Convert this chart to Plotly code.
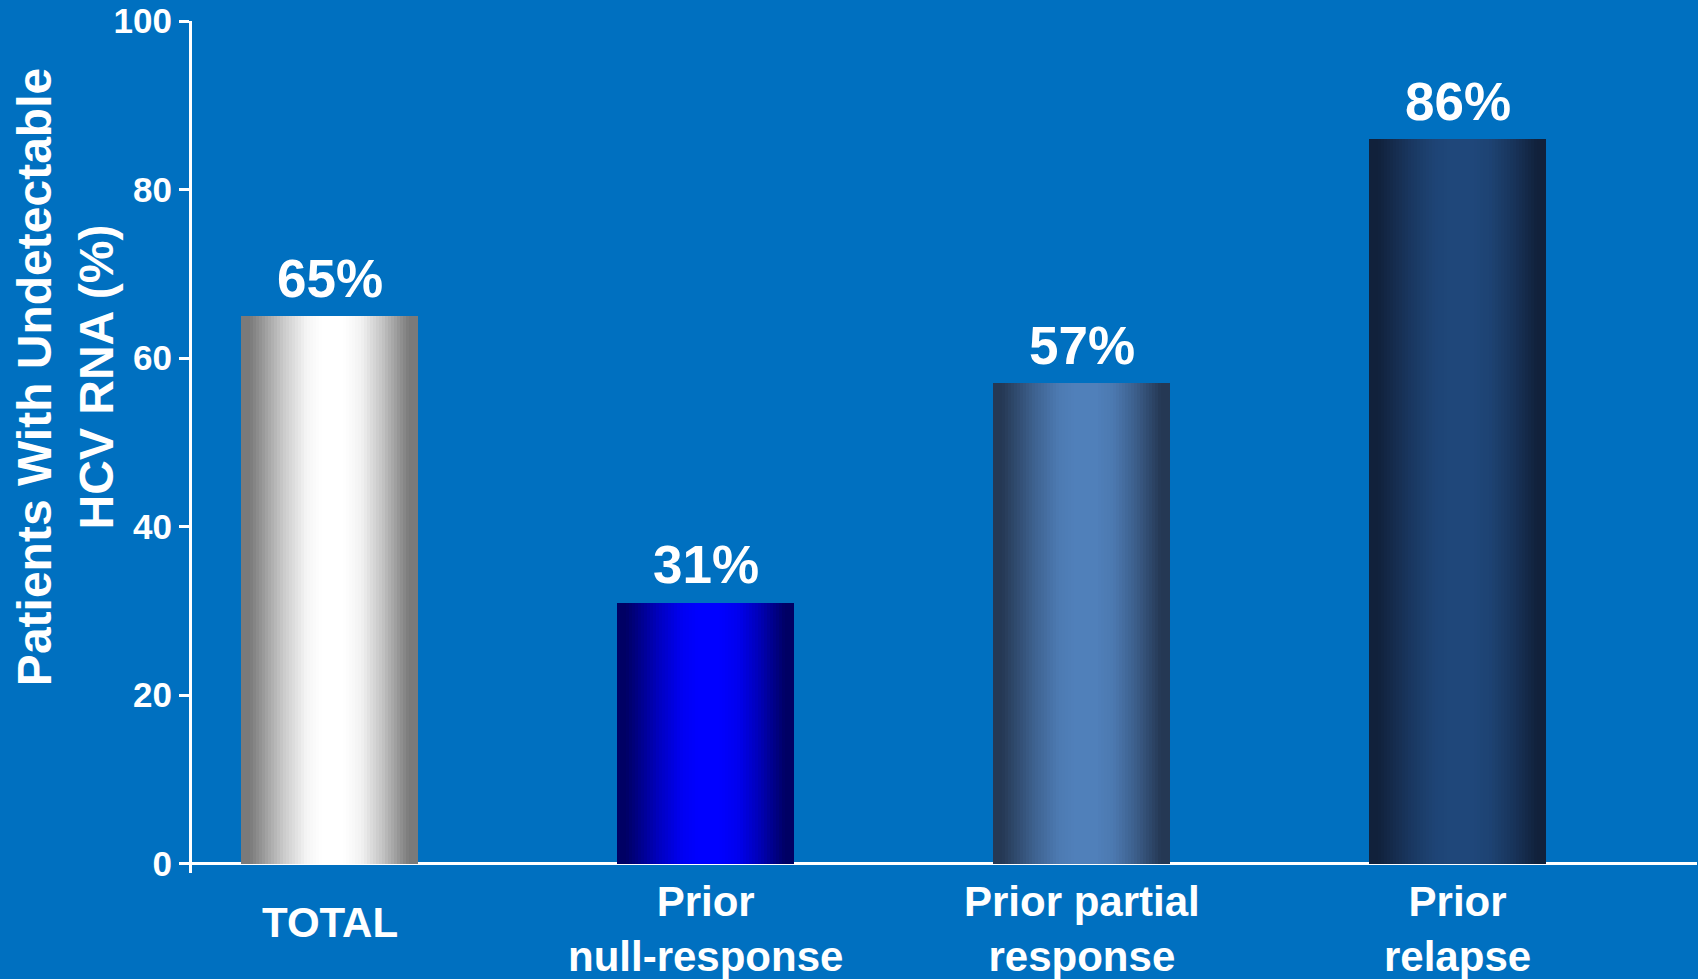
import plotly.graph_objects as go

# Share of patients with undetectable HCV RNA, by prior treatment response
categories = ["TOTAL", "Prior<br>null-response", "Prior partial<br>response", "Prior<br>relapse"]
values = [65, 31, 57, 86]
value_labels = ["65%", "31%", "57%", "86%"]
y_ticks = [0, 20, 40, 60, 80, 100]

# Cylinder-style shading for each bar: (edge colour, centre colour)
bar_shades = [
    ((122, 122, 122), (255, 255, 255)),
    ((0, 0, 100), (0, 0, 255)),
    ((37, 56, 84), (80, 128, 186)),
    ((17, 33, 59), (31, 71, 122)),
]

# Brightness stops across the bar width (position, brightness)
shade_stops = [(0.0, 0.0), (0.05, 0.0), (0.24, 0.6), (0.37, 0.92), (0.46, 1.0),
               (0.58, 1.0), (0.68, 0.9), (0.8, 0.55), (0.95, 0.0), (1.0, 0.0)]

BG = "#0070c0"
FONT = "Liberation Sans, Arial, sans-serif"
BAR_W = 0.471
N_SLICES = 59


def shade_profile(t):
    for (t0, v0), (t1, v1) in zip(shade_stops[:-1], shade_stops[1:]):
        if t0 <= t <= t1:
            return v0 + (v1 - v0) * (t - t0) / (t1 - t0)
    return 0.0


def mix(c0, c1, a):
    return "rgb(%d,%d,%d)" % tuple(round(c0[i] + (c1[i] - c0[i]) * a) for i in range(3))


fig = go.Figure()

step = BAR_W / N_SLICES
for k in range(N_SLICES):
    t = (k + 0.5) / N_SLICES
    a = shade_profile(t)
    colors = [mix(edge, centre, a) for edge, centre in bar_shades]
    offset = -BAR_W / 2 + k * step
    width = min(step * 1.6, BAR_W / 2 - offset)
    fig.add_trace(go.Bar(
        x=categories,
        y=values,
        width=width,
        offset=offset,
        marker=dict(color=colors, line=dict(width=0)),
        hoverinfo="skip",
        showlegend=False,
    ))

# Value labels above the bars
for cat, val, lab in zip(categories, values, value_labels):
    fig.add_annotation(
        x=cat, y=val, text=lab, showarrow=False,
        xanchor="center", yanchor="middle", yshift=38,
        font=dict(family=FONT, size=53, color="white", weight="bold"),
    )

# Category labels under the axis
for cat in categories:
    two_line = "<br>" in cat
    fig.add_annotation(
        x=cat, y=0, text=cat, showarrow=False,
        xanchor="center", yanchor="middle", yshift=-65 if two_line else -59,
        align="center",
        font=dict(family=FONT, size=42, color="white", weight="bold"),
    )

# Y-axis title
fig.add_annotation(
    xref="paper", yref="paper", x=0, y=0.582, xshift=-127,
    text="Patients With Undetectable<br>HCV RNA (%)",
    textangle=-90, showarrow=False,
    xanchor="center", yanchor="middle", align="center",
    font=dict(family=FONT, size=48, color="white", weight="bold"),
)

fig.update_layout(
    width=1698, height=979,
    paper_bgcolor=BG, plot_bgcolor=BG,
    margin=dict(l=192, r=1, t=19, b=106),
    barmode="overlay",
    bargap=0,
    xaxis=dict(
        type="category",
        range=[-0.367, 3.637],
        showline=False, showgrid=False, zeroline=False,
        showticklabels=False, ticks="",
        fixedrange=True,
    ),
    yaxis=dict(
        range=[-1.1, 100.02],
        tickvals=y_ticks,
        ticktext=[str(v) for v in y_ticks],
        showline=True, linecolor="white", linewidth=3,
        ticks="outside", ticklen=10, tickwidth=3, tickcolor="white",
        showgrid=False,
        zeroline=True, zerolinecolor="white", zerolinewidth=3,
        tickfont=dict(family=FONT, size=35, color="white", weight="bold"),
        ticklabeloverflow="allow",
        fixedrange=True,
    ),
    showlegend=False,
)

fig.write_html("out.html")
